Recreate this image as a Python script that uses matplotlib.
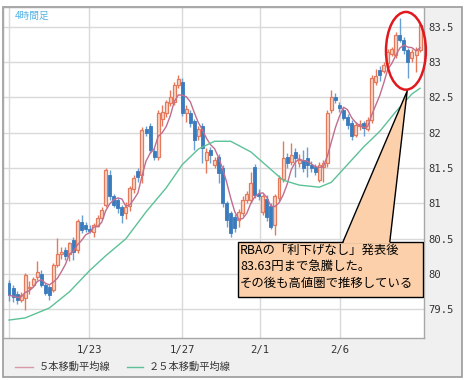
import numpy as np
import pandas as pd
import matplotlib
matplotlib.use("Agg")
import matplotlib.pyplot as plt
from matplotlib.patches import Rectangle, Ellipse, Polygon
from matplotlib.lines import Line2D

# ── 4時間足 OHLC (読み取り値) ─────────────────────────
opens = [79.88, 79.80, 79.72, 79.64, 79.66, 79.80, 79.85, 79.96, 80.00, 79.85,
         79.82, 79.78, 80.13, 80.28, 80.34, 80.29, 80.48, 80.34, 80.74, 80.70,
         80.64, 80.60, 80.68, 80.80, 80.98, 81.40, 81.10, 81.05, 80.95, 80.86,
         80.96, 81.20, 81.46, 81.40, 82.05, 82.09, 81.74, 81.66, 82.20, 82.28,
         82.42, 82.44, 82.68, 82.72, 82.28, 82.28, 82.16, 81.95, 82.10, 81.62,
         81.76, 81.55, 81.66, 81.50, 81.00, 80.86, 80.81, 80.77, 80.86, 81.05,
         81.05, 81.52, 81.14, 80.88, 81.07, 80.96, 80.70, 81.08, 81.34, 81.66,
         81.59, 81.73, 81.57, 81.62, 81.64, 81.55, 81.52, 81.33, 81.52, 81.57,
         82.32, 82.51, 82.40, 82.32, 82.23, 82.14, 81.97, 82.09, 82.14, 82.06,
         82.18, 82.72, 82.89, 82.88, 82.99, 83.12, 83.10, 83.39, 83.32, 83.17,
         83.06, 83.10, 83.17]
highs = [79.92, 79.85, 79.76, 79.74, 80.02, 79.90, 79.96, 80.18, 80.06, 79.88,
         79.85, 80.16, 80.51, 80.38, 80.38, 80.46, 80.52, 80.78, 80.84, 80.74,
         80.70, 80.72, 80.84, 80.95, 81.50, 81.48, 81.14, 81.08, 80.98, 81.02,
         81.25, 81.40, 81.50, 82.08, 82.10, 82.14, 81.78, 82.32, 82.40, 82.46,
         82.60, 82.72, 82.82, 82.78, 82.40, 82.32, 82.20, 82.10, 82.14, 81.78,
         81.80, 81.66, 81.70, 81.55, 81.03, 80.90, 80.85, 80.92, 81.10, 81.18,
         81.45, 81.56, 81.20, 81.14, 81.12, 81.00, 81.14, 81.40, 81.88, 81.72,
         81.85, 81.78, 81.70, 81.76, 81.80, 81.60, 81.56, 81.58, 81.62, 82.32,
         82.61, 82.56, 82.44, 82.35, 82.26, 82.18, 82.15, 82.18, 82.17, 82.22,
         82.82, 82.90, 82.94, 83.00, 83.18, 83.22, 83.42, 83.63, 83.35, 83.20,
         83.18, 83.22, 83.56]
lows = [79.62, 79.60, 79.58, 79.60, 79.49, 79.72, 79.82, 79.92, 79.82, 79.70,
        79.63, 79.75, 80.10, 80.22, 80.20, 80.18, 80.20, 80.30, 80.58, 80.60,
        80.58, 80.52, 80.66, 80.78, 80.95, 81.05, 80.95, 80.86, 80.72, 80.78,
        80.90, 81.15, 81.30, 81.29, 81.95, 81.72, 81.62, 81.62, 82.10, 82.22,
        82.38, 82.40, 82.64, 82.24, 82.15, 82.08, 81.75, 81.90, 81.57, 81.43,
        81.57, 81.50, 81.29, 80.95, 80.67, 80.53, 80.60, 80.67, 80.82, 81.00,
        81.00, 81.08, 81.05, 80.84, 80.75, 80.64, 80.55, 81.04, 81.30, 81.50,
        81.55, 81.38, 81.52, 81.45, 81.38, 81.45, 81.40, 81.30, 81.31, 81.52,
        82.28, 82.42, 82.30, 82.18, 82.06, 81.90, 81.94, 82.04, 81.95, 82.02,
        82.14, 82.68, 82.73, 82.84, 82.96, 83.08, 83.06, 83.28, 83.12, 82.77,
        83.00, 82.86, 83.14]
closes = [79.70, 79.68, 79.63, 79.70, 79.99, 79.82, 79.93, 80.03, 79.85, 79.73,
          79.70, 80.13, 80.29, 80.32, 80.25, 80.44, 80.32, 80.75, 80.62, 80.64,
          80.61, 80.70, 80.80, 80.91, 81.47, 81.10, 80.98, 80.93, 80.84, 80.95,
          81.22, 81.36, 81.38, 82.04, 82.00, 81.76, 81.66, 82.28, 82.30, 82.44,
          82.50, 82.68, 82.76, 82.28, 82.33, 82.14, 81.90, 82.06, 81.78, 81.73,
          81.69, 81.62, 81.43, 81.00, 80.77, 80.58, 80.65, 80.88, 81.05, 81.14,
          81.29, 81.12, 81.10, 81.10, 80.81, 80.67, 81.10, 81.36, 81.64, 81.57,
          81.69, 81.64, 81.62, 81.50, 81.54, 81.50, 81.45, 81.55, 81.57, 82.28,
          82.51, 82.46, 82.35, 82.21, 82.11, 81.95, 82.11, 82.13, 82.07, 82.18,
          82.77, 82.80, 82.82, 82.96, 83.15, 83.18, 83.39, 83.32, 83.17, 83.00,
          83.14, 83.17, 83.53]

# 25本移動平均線 (チャートから読み取り: 足番号, 値)
ma25_idx = [0, 4, 10, 15, 20, 24, 29, 34, 39, 43, 47, 51, 55, 60, 65, 68, 72,
            77, 80, 84, 88, 92, 96, 100, 102]
ma25_val = [79.35, 79.38, 79.52, 79.75, 80.05, 80.26, 80.50, 80.88, 81.22,
            81.55, 81.77, 81.88, 81.88, 81.73, 81.48, 81.33, 81.26, 81.23,
            81.30, 81.55, 81.80, 82.02, 82.30, 82.55, 82.63]

date_pos = [19.85, 42.93, 62.28, 82.13]
date_labels = ["1/23", "1/27", "2/1", "2/6"]
y_ticks = [79.5, 80, 80.5, 81, 81.5, 82, 82.5, 83, 83.5]

note_lines = ["RBAの「利下げなし」発表後",
              "83.63円まで急騰した。",
              "その後も高値圏で推移している"]

JP = ["Noto Sans CJK JP", "DejaVu Sans"]
UP_EDGE, UP_FILL = "#e5795b", "#fbd6c7"
DN = "#3a7bbd"

W, H = 468, 380
fig = plt.figure(figsize=(W / 100, H / 100), dpi=100, facecolor="white")
# 外枠 (グレー背景)
fig.patches.append(Rectangle((3 / W, 1 - 377 / H), 459 / W, 370 / H,
                             transform=fig.transFigure, facecolor="#f0f0f0",
                             edgecolor="#9a9a9a", lw=1.2, zorder=-10))

ax = fig.add_axes([3 / W, 1 - 338 / H, 421 / W, 331 / H])
ax.set_zorder(1)
ax.set_facecolor("white")
ax.set_xlim(-1.49, 102.98)
ax.set_ylim(79.096, 83.78)

x = np.arange(len(closes))
o = np.array(opens); c = np.array(closes)
hi = np.array(highs); lo = np.array(lows)
up = c >= o

# ヒゲ
ax.vlines(x[up], lo[up], hi[up], color=UP_EDGE, lw=1.0, zorder=3)
ax.vlines(x[~up], lo[~up], hi[~up], color="#6a9fd3", lw=1.0, zorder=3)
# 実体
bw = 0.74
ax.bar(x[up], np.maximum(c[up] - o[up], 0.012), bottom=o[up], width=bw,
       color=UP_FILL, edgecolor=UP_EDGE, linewidth=0.9, zorder=4)
ax.bar(x[~up], np.maximum(o[~up] - c[~up], 0.012), bottom=c[~up], width=bw,
       color=DN, edgecolor=DN, linewidth=0.6, zorder=4)

# 移動平均線
ma5 = pd.Series(closes).rolling(5, min_periods=1).mean()
ax.plot(x, ma5, color="#c06e90", lw=1.0, zorder=5)
ax.plot(ma25_idx, ma25_val, color="#5cc197", lw=1.0, zorder=5)

# グリッド
ax.set_yticks(y_ticks)
ax.set_xticks([0] + date_pos)
ax.set_xticklabels([""] + date_labels)
ax.grid(True, color="#d9d9d9", lw=1.0, zorder=0)
ax.set_axisbelow(True)
ax.yaxis.tick_right()
ax.set_yticklabels([f"{v:g}" for v in y_ticks])
ax.tick_params(length=0, labelsize=7.6, colors="#333333", pad=3)
for lab in ax.get_xticklabels() + ax.get_yticklabels():
    lab.set_family("DejaVu Sans Mono")
ax.tick_params(axis="x", pad=5)
for s in ax.spines.values():
    s.set_color("#a8a8a8"); s.set_linewidth(1.0)

# 赤丸
ax.add_patch(Ellipse((98.5, 83.16), 9.9, 1.10, fill=False, edgecolor="#e0191f",
                     lw=1.8, clip_on=False, zorder=8))

# 吹き出し
box_l, box_r, box_t, box_b = 56.8, 102.7, 80.46, 79.68
ax.add_patch(Rectangle((box_l, box_b), box_r - box_l, box_t - box_b,
                       facecolor="#fbd0aa", edgecolor="black", lw=1.0, zorder=9))
tip = (98.8, 82.59)
base_l, base_r = (82.9, box_t), (94.5, box_t)
ax.add_patch(Polygon([(base_l[0], box_t - 0.03), tip, (base_r[0], box_t - 0.03)],
                     closed=True, facecolor="#fbd0aa", edgecolor="none", zorder=10))
ax.plot([base_l[0], tip[0], base_r[0]], [base_l[1], tip[1], base_r[1]],
        color="black", lw=1.0, zorder=11)
for yv, line in zip([80.34, 80.11, 79.87], note_lines):
    ax.text(57.3, yv, line, family=JP, fontsize=8.9, color="black",
            va="center", ha="left", zorder=12)

# 左上ラベル
fig.text(15 / W, 1 - 16 / H, "4時間足", family=JP, fontsize=7.0,
         color="#55b3e4", va="center", ha="left", zorder=5)

# 凡例
ly = 1 - 367 / H
fig.add_artist(Line2D([15 / W, 33 / W], [ly, ly], color="#d89aa8", lw=1.0,
                      transform=fig.transFigure))
fig.text(39 / W, ly, "５本移動平均線", family=JP, fontsize=7.4,
         color="#333333", va="center", ha="left")
fig.add_artist(Line2D([127 / W, 143 / W], [ly, ly], color="#5cc197", lw=1.0,
                      transform=fig.transFigure))
fig.text(149 / W, ly, "２５本移動平均線", family=JP, fontsize=7.4,
         color="#333333", va="center", ha="left")

fig.savefig("out.png", dpi=100, facecolor=fig.get_facecolor())
